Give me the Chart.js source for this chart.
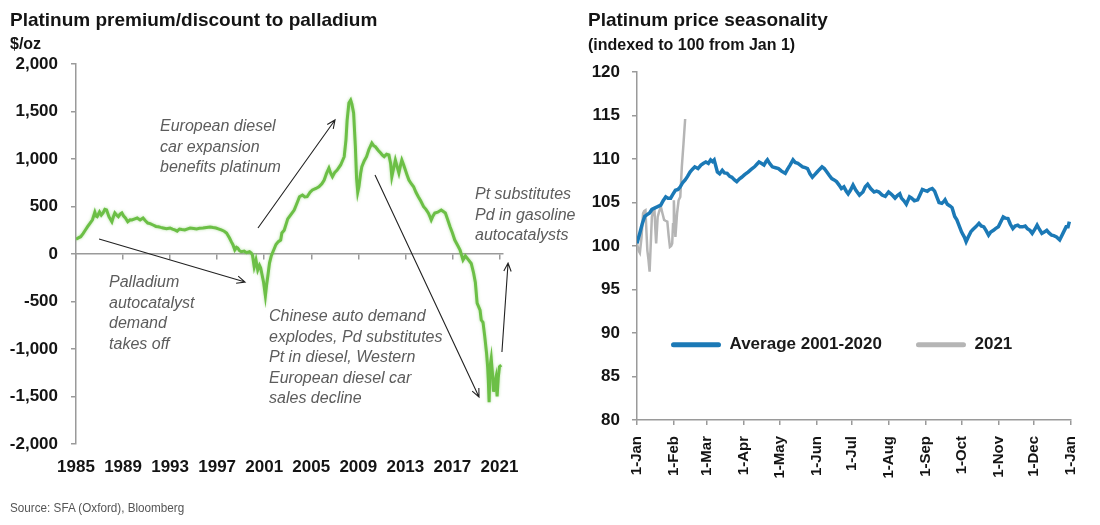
<!DOCTYPE html>
<html><head><meta charset="utf-8">
<script src="https://cdn.jsdelivr.net/npm/chart.js@4.4.1/dist/chart.umd.min.js"></script>
<style>
html,body{margin:0;padding:0;background:#fff;}
#wrap{position:relative;width:1100px;height:525px;overflow:hidden;background:#fff;}
#cl{position:absolute;left:0;top:0;}
#cr{position:absolute;left:578px;top:0;}
#src{position:absolute;left:10px;top:500px;font:13px/15px "Liberation Sans Narrow","Liberation Sans",Arial,sans-serif;color:#555;white-space:nowrap;transform:scaleX(0.9);transform-origin:0 0;}
</style></head>
<body>
<div id="wrap">
<canvas id="cl" width="578" height="525"></canvas>
<canvas id="cr" width="522" height="525"></canvas>
<div id="src">Source: SFA (Oxford), Bloomberg</div>
</div>
<script>
// ---------- Left chart data: Pt premium/discount to Pd ($/oz) ----------
const leftYears = [1985.0,1985.2,1985.4,1985.6,1985.8,1986.0,1986.2,1986.4,1986.6,1986.7,1986.8,1987.0,1987.15,1987.3,1987.45,1987.6,1987.8,1988.05,1988.2,1988.3,1988.45,1988.6,1988.75,1988.9,1989.05,1989.2,1989.4,1989.6,1989.75,1990.0,1990.2,1990.45,1990.7,1990.9,1991.1,1991.3,1991.55,1991.8,1992.0,1992.2,1992.4,1992.7,1993.0,1993.2,1993.4,1993.6,1993.8,1994.0,1994.25,1994.5,1994.7,1995.0,1995.25,1995.5,1995.8,1996.1,1996.4,1996.65,1996.9,1997.1,1997.35,1997.6,1997.8,1998.05,1998.2,1998.35,1998.5,1998.65,1998.75,1998.9,1999.05,1999.3,1999.5,1999.75,1999.9,2000.0,2000.15,2000.3,2000.45,2000.6,2000.7,2000.85,2000.95,2001.1,2001.2,2001.3,2001.45,2001.6,2001.7,2002.0,2002.2,2002.4,2002.5,2002.7,2003.0,2003.3,2003.55,2003.8,2004.0,2004.25,2004.45,2004.65,2004.9,2005.1,2005.4,2005.65,2005.9,2006.1,2006.3,2006.5,2006.65,2006.8,2007.0,2007.2,2007.5,2007.8,2007.95,2008.05,2008.2,2008.35,2008.45,2008.6,2008.75,2008.85,2008.95,2009.05,2009.2,2009.3,2009.5,2009.7,2009.9,2010.15,2010.3,2010.45,2010.7,2010.9,2011.05,2011.2,2011.4,2011.6,2011.75,2011.85,2012.0,2012.15,2012.3,2012.45,2012.6,2012.7,2012.85,2013.0,2013.15,2013.3,2013.5,2013.7,2013.9,2014.1,2014.3,2014.55,2014.75,2014.95,2015.1,2015.2,2015.35,2015.5,2015.75,2016.05,2016.2,2016.4,2016.6,2016.8,2017.0,2017.2,2017.45,2017.65,2017.9,2018.1,2018.35,2018.6,2018.8,2018.95,2019.1,2019.35,2019.45,2019.6,2019.75,2019.9,2020.0,2020.05,2020.12,2020.2,2020.3,2020.4,2020.5,2020.6,2020.7,2020.8,2020.9,2021.0,2021.15];
const leftValues = [155,170,182,215,253,290,326,360,440,400,393,442,410,432,470,463,393,340,400,432,410,393,420,432,400,379,340,360,358,370,379,358,379,350,326,320,305,290,287,280,274,265,274,262,253,240,263,258,253,265,274,268,263,270,274,280,284,278,274,265,253,240,221,168,130,95,42,70,63,35,24,30,14,24,10,-10,-134,-63,-168,-120,-147,-239,-300,-440,-330,-239,-95,-20,10,100,130,147,221,250,370,420,463,540,603,621,600,603,650,674,690,708,740,779,850,905,850,813,860,884,937,1024,1200,1410,1589,1620,1580,1484,1129,800,650,708,850,919,980,1024,1100,1168,1140,1129,1090,1063,1040,1024,1050,1042,950,813,900,989,920,852,940,989,940,884,830,779,740,708,650,603,560,498,470,432,390,358,400,432,440,463,450,432,360,287,220,147,90,42,-63,-20,-60,-100,-200,-300,-516,-590,-695,-720,-870,-1042,-1200,-1326,-1560,-1186,-1100,-1250,-1450,-1358,-1300,-1500,-1300,-1186,-1170];
const leftTickYears = [1985,1989,1993,1997,2001,2005,2009,2013,2017,2021];

const leftNotes = [
  {lines:['European diesel','car expansion','benefits platinum'], year:1992.14, value:1337},
  {lines:['Palladium','autocatalyst','demand','takes off'], year:1987.81, value:-305},
  {lines:['Chinese auto demand','explodes, Pd substitutes','Pt in diesel, Western','European diesel car','sales decline'], year:2001.41, value:-663},
  {lines:['Pt substitutes','Pd in gasoline','autocatalysts'], year:2018.92, value:621}
];
const leftArrows = [
  {from:[2000.47,274], to:[2007.02,1411]},
  {from:[1986.96,158], to:[1999.37,-295]},
  {from:[2010.42,832], to:[2019.26,-1505]},
  {from:[2021.21,-1032], to:[2021.73,-95]}
];

// ---------- Right chart data: seasonality (index, day of year) ----------
const avgDays = [0,2.4,4.5,6.5,8.5,10.6,12.5,14.7,17,20,22,24.2,26,28.3,30,32.3,34.5,36.4,38.5,40.5,42.5,44.6,46.5,48.6,51.3,53.8,56,57.9,60,61.9,63.5,64.9,67.6,69.5,71.7,73.5,75.8,78,79.8,82,83.9,86,88,90.5,93.4,96,98.8,100.8,102.6,104.5,106.8,108.5,109.7,111.5,113.8,116.5,119,121.5,124.7,126.5,128.7,131.2,133,135.3,137.3,139.3,141.5,143.4,145.5,147.5,149.5,151.5,153.5,155.6,157.5,159.7,161.8,163.8,165.8,167.8,170,171.9,174,176,177.6,179.5,181.7,184.1,187.1,190,192,194,196.5,199.4,201.5,203.5,206.1,208.8,211.6,213.5,215,217,219,221,222.4,224.5,226.5,229.2,231,233.3,236,238,240,242,244.2,246,248.3,250.3,252.3,254,256.4,258,259.1,261,263.2,265,267.2,269,271.3,273,275.4,276.8,278.5,280.8,282.5,284.9,287.6,289.5,291.7,293.5,295.7,297.5,299.8,301.5,303.9,306,308,310,312,314,316.1,318,320.2,322,324.3,326.5,328.3,330.5,332.4,334.5,336.5,338.5,340.5,342.5,344.6,346.5,348.7,350.5,352.8,355.5,358.2,360.9,362.5,363.6];
const avgValues = [100.3,101.5,102.6,103.4,103.6,103.8,104.2,104.35,104.5,104.7,105.2,105.65,105.5,105.5,105.9,106.4,106.5,106.8,107.3,107.6,108.0,108.5,108.8,109.1,108.9,109.3,109.5,109.65,109.5,109.9,109.7,109.9,108.5,108.3,108.7,108.4,108.35,108.0,107.9,107.6,107.4,107.7,107.9,108.2,108.5,108.8,109.1,109.4,109.65,109.5,109.3,109.7,109.9,109.5,109.1,109.0,108.9,108.6,108.35,108.8,109.3,109.9,109.6,109.5,109.3,109.1,109.0,108.9,108.3,107.9,108.2,108.5,108.8,109.1,108.9,108.5,108.1,107.75,107.6,107.4,107.0,106.6,106.8,106.3,106.0,106.4,107.0,106.4,105.85,106.2,106.8,107.1,106.6,106.2,106.3,106.2,105.85,105.7,106.2,106.0,105.8,105.5,105.8,106.0,105.5,105.2,104.8,105.65,105.5,105.2,105.3,105.9,106.5,106.4,106.3,106.5,106.6,106.3,105.6,105.0,104.9,105.1,105.3,104.8,104.6,104.4,103.4,103.0,102.2,101.6,101.0,100.5,101.0,101.65,101.9,102.2,102.6,102.3,102.2,101.8,101.25,101.6,101.8,102.0,102.2,102.8,103.35,103.2,103.15,102.5,102.0,102.3,102.4,102.2,102.2,102.3,102.0,101.8,101.45,101.9,102.4,101.9,101.45,101.6,101.8,101.5,101.25,101.2,101.05,100.7,101.45,102.2,102.2,102.8];
const y2021Days = [0,1.2,2.4,3.8,5.1,6.0,7.1,8.0,8.7,9.6,10.6,11.5,12.5,13.5,14.7,15.4,16.1,17.4,18.7,20.1,21.5,22.8,24,25.5,26.6,27.7,28.7,29.6,30.3,31,31.6,32.3,33.7,35,36.4,37.7,39.1,40.5];
const y2021Values = [100.3,99.5,99.2,101,103.75,104.0,104.1,101.5,99.5,98.5,97.05,100,103.35,103.9,104.1,102,100.3,103.35,104.0,104.5,103.7,103.0,102.9,102.8,101.2,99.9,100.0,100.3,102.5,105.25,103,101.05,103.75,105.25,105.65,109.1,111.75,114.6];
const monthTickDays = [0,31,59,90,120,151,181,212,243,273,304,334,365];
const monthTickLabels = ['1-Jan','1-Feb','1-Mar','1-Apr','1-May','1-Jun','1-Jul','1-Aug','1-Sep','1-Oct','1-Nov','1-Dec','1-Jan'];
const seriesNames = ['Average 2001-2020','2021'];
const legendAnchor = {day:0, value:88.66};

// ---------- styles ----------
const SANS = '"Liberation Sans", Arial, sans-serif';
const AXIS = '#9a9a9a';
const INK = '#141414';
const GREEN = '#6cbf46';
const BLUE = '#1b79b6';
const GREY = '#b5b5b5';
const pts = (xs, ys) => xs.map((x, i) => ({x, y: ys[i]}));

const notesPlugin = {
  id: 'notes',
  afterDatasetsDraw(chart) {
    const {ctx, scales:{x, y}} = chart;
    ctx.save();
    ctx.font = 'italic 16px ' + SANS;
    ctx.fillStyle = '#5c5c5c';
    ctx.textBaseline = 'middle';
    ctx.textAlign = 'left';
    leftNotes.forEach(n => {
      const px = x.getPixelForValue(n.year), py = y.getPixelForValue(n.value);
      n.lines.forEach((t, i) => ctx.fillText(t, px, py + i * 20.5));
    });
    ctx.strokeStyle = '#222';
    ctx.lineWidth = 1.1;
    leftArrows.forEach(a => {
      const x1 = x.getPixelForValue(a.from[0]), y1 = y.getPixelForValue(a.from[1]);
      const x2 = x.getPixelForValue(a.to[0]), y2 = y.getPixelForValue(a.to[1]);
      const ang = Math.atan2(y2 - y1, x2 - x1), h = 9, s = 0.42;
      ctx.beginPath();
      ctx.moveTo(x1, y1); ctx.lineTo(x2, y2);
      ctx.moveTo(x2 - h * Math.cos(ang - s), y2 - h * Math.sin(ang - s));
      ctx.lineTo(x2, y2);
      ctx.lineTo(x2 - h * Math.cos(ang + s), y2 - h * Math.sin(ang + s));
      ctx.stroke();
    });
    ctx.restore();
  }
};

const glowPlugin = {
  id: 'glow',
  beforeDatasetsDraw(chart) { chart.ctx.save(); chart.ctx.shadowColor = 'rgba(120,200,90,0.55)'; chart.ctx.shadowBlur = 3; },
  afterDatasetsDraw(chart) { chart.ctx.restore(); }
};

new Chart(document.getElementById('cl'), {
  type: 'line',
  data: {datasets: [{data: pts(leftYears, leftValues), borderColor: GREEN, borderWidth: 3, pointRadius: 0, tension: 0}]},
  options: {
    responsive: false, animation: false, events: [],
    layout: {padding: {left: 10, top: 5, right: 75, bottom: 41}},
    plugins: {
      legend: {display: false}, tooltip: {enabled: false},
      title: {display: true, text: 'Platinum premium/discount to palladium', align: 'start', color: INK,
        font: {family: SANS, size: 19, weight: 'bold'}, padding: {top: 4, bottom: 0}},
      subtitle: {display: true, text: '$/oz', align: 'start', color: INK,
        font: {family: SANS, size: 16, weight: 'bold'}, padding: {top: 3, bottom: 10}}
    },
    scales: {
      x: {type: 'linear', min: 1985, max: 2021.3, position: 'bottom',
        afterBuildTicks: s => { s.ticks = leftTickYears.map(v => ({value: v})); },
        ticks: {callback: v => String(v), color: INK, font: {family: SANS, size: 17, weight: 'bold'}, padding: 13, autoSkip: false, maxRotation: 0},
        grid: {display: false, drawTicks: false}, border: {display: false},
        afterFit: s => { s.height = 40; }},
      x0: {type: 'linear', min: 1985, max: 2021.3, position: {y: 0},
        afterBuildTicks: s => { s.ticks = leftTickYears.map(v => ({value: v})); },
        ticks: {display: false},
        grid: {drawOnChartArea: false, drawTicks: true, tickLength: 5, color: AXIS, lineWidth: 1.5},
        border: {color: AXIS, width: 1.5}},
      y: {min: -2000, max: 2000,
        ticks: {stepSize: 500, color: INK, font: {family: SANS, size: 17, weight: 'bold'}, padding: 13},
        grid: {drawOnChartArea: false, tickLength: 5, color: AXIS, lineWidth: 1.5},
        border: {color: AXIS, width: 1.5},
        afterFit: s => { s.width = 66; }}
    }
  },
  plugins: [glowPlugin, notesPlugin]
});

const legendPlace = {
  id: 'legendPlace',
  afterLayout(chart) {
    const lg = chart.legend, ca = chart.chartArea;
    const py = chart.scales.y.getPixelForValue(legendAnchor.value);
    const px = chart.scales.x.getPixelForValue(legendAnchor.day);
    const pad = lg.options.labels.padding, fs = lg.options.labels.font.size;
    lg.left = px; lg.right = ca.right; lg.width = ca.right - px;
    lg.top = py - pad - fs / 2; lg.bottom = py + fs + 4; lg.height = lg.bottom - lg.top;
  }
};

new Chart(document.getElementById('cr'), {
  type: 'line',
  data: {datasets: [
    {label: seriesNames[0], data: pts(avgDays, avgValues), borderColor: BLUE, backgroundColor: BLUE, borderWidth: 3.5, pointRadius: 0, tension: 0},
    {label: seriesNames[1], data: pts(y2021Days, y2021Values), borderColor: GREY, backgroundColor: GREY, borderWidth: 2.5, pointRadius: 0, tension: 0}
  ]},
  options: {
    responsive: false, animation: false, events: [],
    layout: {padding: {left: 10, top: 5, right: 15, bottom: 44}},
    plugins: {
      tooltip: {enabled: false},
      legend: {display: true, position: 'bottom', align: 'start', maxHeight: 1,
        labels: {boxWidth: 50, boxHeight: 5, padding: 34, color: '#1a1a1a', font: {family: SANS, size: 17, weight: 'bold'},
          useBorderRadius: true, borderRadius: 2.5,
          generateLabels: c => Chart.defaults.plugins.legend.labels.generateLabels(c).map(l => Object.assign(l, {lineWidth: 0}))}},
      title: {display: true, text: 'Platinum price seasonality', align: 'start', color: INK,
        font: {family: SANS, size: 19, weight: 'bold'}, padding: {top: 4, bottom: 0}},
      subtitle: {display: true, text: '(indexed to 100 from Jan 1)', align: 'start', color: INK,
        font: {family: SANS, size: 16, weight: 'bold'}, padding: {top: 4.6, bottom: 16.4}}
    },
    scales: {
      x: {type: 'linear', min: 0, max: 365,
        afterBuildTicks: s => { s.ticks = monthTickDays.map(v => ({value: v})); },
        ticks: {callback: (v, i) => monthTickLabels[i], autoSkip: false, minRotation: 90, maxRotation: 90,
          color: INK, font: {family: SANS, size: 15, weight: 'bold'}, padding: 11},
        grid: {drawOnChartArea: false, tickLength: 5, color: AXIS, lineWidth: 1.5},
        border: {color: AXIS, width: 1.5},
        afterFit: s => { s.height = 60; }},
      y: {min: 80, max: 120,
        ticks: {stepSize: 5, color: INK, font: {family: SANS, size: 17, weight: 'bold'}, padding: 12},
        grid: {drawOnChartArea: false, tickLength: 5, color: AXIS, lineWidth: 1.5},
        border: {color: AXIS, width: 1.5},
        afterFit: s => { s.width = 49; }}
    }
  },
  plugins: [legendPlace]
});
</script>
</body></html>
